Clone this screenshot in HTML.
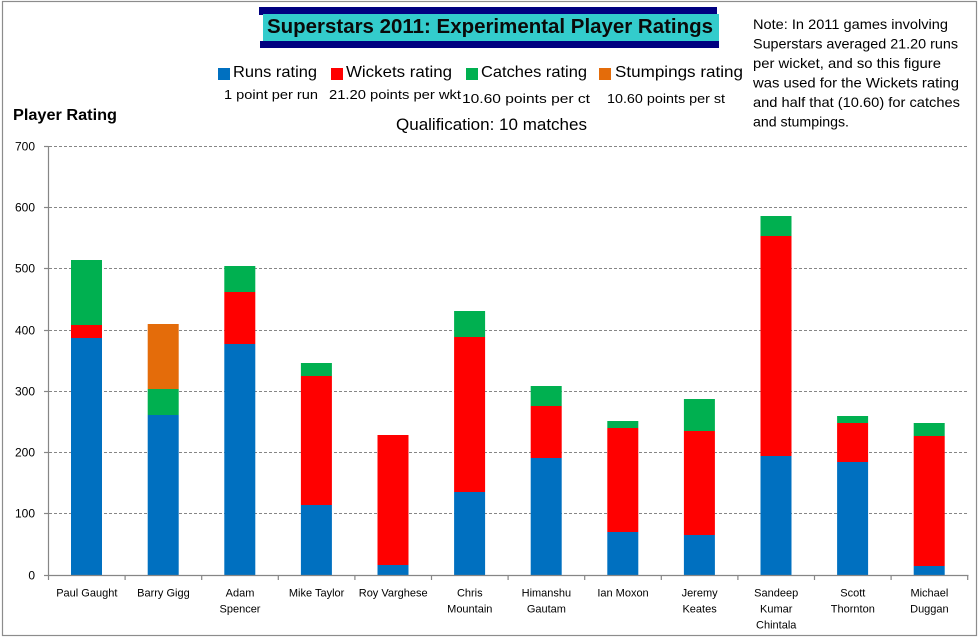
<!DOCTYPE html>
<html>
<head>
<meta charset="utf-8">
<style>
  html, body { margin: 0; padding: 0; background: #ffffff; }
  body { width: 980px; height: 638px; overflow: hidden; }
  svg { display: block; font-family: "Liberation Sans", sans-serif; }
</style>
</head>
<body>
<svg width="980" height="638" viewBox="0 0 980 638" xmlns="http://www.w3.org/2000/svg">
  <rect x="0" y="0" width="980" height="638" fill="#ffffff"/>
  <!-- outer border -->
  <rect x="2.5" y="1.5" width="974" height="634" fill="none" stroke="#8c8c8c" stroke-width="1.2"/>

  <!-- Title -->
  <rect x="259" y="7" width="458" height="8" fill="#000080"/>
  <rect x="263" y="14" width="456" height="27" fill="#33CCCC"/>
  <rect x="260" y="41" width="459" height="7" fill="#000080"/>
  <text x="267" y="33" font-size="20" font-weight="bold" fill="#0a0a0a" textLength="446" lengthAdjust="spacingAndGlyphs">Superstars 2011: Experimental Player Ratings</text>

  <!-- Legend -->
  <rect x="218" y="68" width="12" height="12" fill="#0070C0"/>
  <text x="233" y="77" font-size="16" fill="#000" textLength="84" lengthAdjust="spacingAndGlyphs">Runs rating</text>
  <rect x="331" y="68" width="12" height="12" fill="#FF0000"/>
  <text x="346" y="77" font-size="16" fill="#000" textLength="106" lengthAdjust="spacingAndGlyphs">Wickets rating</text>
  <rect x="466" y="68" width="12" height="12" fill="#00B050"/>
  <text x="481" y="77" font-size="16" fill="#000" textLength="106" lengthAdjust="spacingAndGlyphs">Catches rating</text>
  <rect x="599" y="68" width="12" height="12" fill="#E46C0A"/>
  <text x="615" y="77" font-size="16" fill="#000" textLength="128" lengthAdjust="spacingAndGlyphs">Stumpings rating</text>

  <text x="224" y="99" font-size="13" fill="#000" textLength="94" lengthAdjust="spacingAndGlyphs">1 point per run</text>
  <text x="329" y="99" font-size="13" fill="#000" textLength="132" lengthAdjust="spacingAndGlyphs">21.20 points per wkt</text>
  <text x="462" y="103" font-size="13" fill="#000" textLength="128" lengthAdjust="spacingAndGlyphs">10.60 points per ct</text>
  <text x="607" y="103" font-size="13" fill="#000" textLength="118" lengthAdjust="spacingAndGlyphs">10.60 points per st</text>

  <text x="396" y="130" font-size="17" fill="#000" textLength="191" lengthAdjust="spacingAndGlyphs">Qualification: 10 matches</text>

  <!-- Note -->
  <g font-size="14" fill="#000">
    <text x="753" y="29" textLength="195" lengthAdjust="spacingAndGlyphs">Note: In 2011 games involving</text>
    <text x="753" y="48.5" textLength="205" lengthAdjust="spacingAndGlyphs">Superstars averaged 21.20 runs</text>
    <text x="753" y="68" textLength="188" lengthAdjust="spacingAndGlyphs">per wicket, and so this figure</text>
    <text x="753" y="87.5" textLength="206" lengthAdjust="spacingAndGlyphs">was used for the  Wickets rating</text>
    <text x="753" y="107" textLength="207" lengthAdjust="spacingAndGlyphs">and half that (10.60) for catches</text>
    <text x="753" y="126.5" textLength="96" lengthAdjust="spacingAndGlyphs">and stumpings.</text>
  </g>

  <!-- Axis title -->
  <text x="13" y="120" font-size="16" font-weight="bold" fill="#000" textLength="104" lengthAdjust="spacingAndGlyphs">Player Rating</text>

  <!-- Gridlines -->
  <g stroke="#868686" stroke-width="1" stroke-dasharray="3,2">
    <line x1="49" y1="146.5" x2="968" y2="146.5"/>
    <line x1="49" y1="207.5" x2="968" y2="207.5"/>
    <line x1="49" y1="268.5" x2="968" y2="268.5"/>
    <line x1="49" y1="330.5" x2="968" y2="330.5"/>
    <line x1="49" y1="391.5" x2="968" y2="391.5"/>
    <line x1="49" y1="452.5" x2="968" y2="452.5"/>
    <line x1="49" y1="513.5" x2="968" y2="513.5"/>
  </g>

  <!-- Bars -->
  <g>
    <rect x="71" y="338" width="31" height="237" fill="#0070C0"/>
    <rect x="71" y="325" width="31" height="13" fill="#FF0000"/>
    <rect x="71" y="260" width="31" height="65" fill="#00B050"/>

    <rect x="147.7" y="415" width="31" height="160" fill="#0070C0"/>
    <rect x="147.7" y="389" width="31" height="26" fill="#00B050"/>
    <rect x="147.7" y="324" width="31" height="65" fill="#E46C0A"/>

    <rect x="224.3" y="344" width="31" height="231" fill="#0070C0"/>
    <rect x="224.3" y="292" width="31" height="52" fill="#FF0000"/>
    <rect x="224.3" y="266" width="31" height="26" fill="#00B050"/>

    <rect x="300.9" y="505" width="31" height="70" fill="#0070C0"/>
    <rect x="300.9" y="376" width="31" height="129" fill="#FF0000"/>
    <rect x="300.9" y="363" width="31" height="13" fill="#00B050"/>

    <rect x="377.5" y="565" width="31" height="10" fill="#0070C0"/>
    <rect x="377.5" y="435" width="31" height="130" fill="#FF0000"/>

    <rect x="454.1" y="492" width="31" height="83" fill="#0070C0"/>
    <rect x="454.1" y="337" width="31" height="155" fill="#FF0000"/>
    <rect x="454.1" y="311" width="31" height="26" fill="#00B050"/>

    <rect x="530.7" y="458" width="31" height="117" fill="#0070C0"/>
    <rect x="530.7" y="406" width="31" height="52" fill="#FF0000"/>
    <rect x="530.7" y="386" width="31" height="20" fill="#00B050"/>

    <rect x="607.3" y="532" width="31" height="43" fill="#0070C0"/>
    <rect x="607.3" y="428" width="31" height="104" fill="#FF0000"/>
    <rect x="607.3" y="421" width="31" height="7" fill="#00B050"/>

    <rect x="683.9" y="535" width="31" height="40" fill="#0070C0"/>
    <rect x="683.9" y="431" width="31" height="104" fill="#FF0000"/>
    <rect x="683.9" y="399" width="31" height="32" fill="#00B050"/>

    <rect x="760.5" y="456" width="31" height="119" fill="#0070C0"/>
    <rect x="760.5" y="236" width="31" height="220" fill="#FF0000"/>
    <rect x="760.5" y="216" width="31" height="20" fill="#00B050"/>

    <rect x="837.1" y="462" width="31" height="113" fill="#0070C0"/>
    <rect x="837.1" y="423" width="31" height="39" fill="#FF0000"/>
    <rect x="837.1" y="416" width="31" height="7" fill="#00B050"/>

    <rect x="913.7" y="566" width="31" height="9" fill="#0070C0"/>
    <rect x="913.7" y="436" width="31" height="130" fill="#FF0000"/>
    <rect x="913.7" y="423" width="31" height="13" fill="#00B050"/>
  </g>

  <!-- Axes -->
  <g stroke="#868686" stroke-width="1.2" fill="none">
    <line x1="48.5" y1="146" x2="48.5" y2="575.5"/>
    <line x1="48" y1="575.5" x2="968.5" y2="575.5"/>
    <line x1="44" y1="146.5" x2="48.5" y2="146.5"/>
    <line x1="44" y1="207.5" x2="48.5" y2="207.5"/>
    <line x1="44" y1="268.5" x2="48.5" y2="268.5"/>
    <line x1="44" y1="330.5" x2="48.5" y2="330.5"/>
    <line x1="44" y1="391.5" x2="48.5" y2="391.5"/>
    <line x1="44" y1="452.5" x2="48.5" y2="452.5"/>
    <line x1="44" y1="513.5" x2="48.5" y2="513.5"/>
    <line x1="44" y1="575.5" x2="48.5" y2="575.5"/>
    <line x1="48.5" y1="575" x2="48.5" y2="580"/>
    <line x1="125.1" y1="575" x2="125.1" y2="580"/>
    <line x1="201.7" y1="575" x2="201.7" y2="580"/>
    <line x1="278.3" y1="575" x2="278.3" y2="580"/>
    <line x1="354.9" y1="575" x2="354.9" y2="580"/>
    <line x1="431.5" y1="575" x2="431.5" y2="580"/>
    <line x1="508.1" y1="575" x2="508.1" y2="580"/>
    <line x1="584.7" y1="575" x2="584.7" y2="580"/>
    <line x1="661.3" y1="575" x2="661.3" y2="580"/>
    <line x1="737.9" y1="575" x2="737.9" y2="580"/>
    <line x1="814.5" y1="575" x2="814.5" y2="580"/>
    <line x1="891.1" y1="575" x2="891.1" y2="580"/>
    <line x1="967.7" y1="575" x2="967.7" y2="580"/>
  </g>

  <!-- Y labels -->
  <g font-size="12" fill="#000" text-anchor="end">
    <text x="35" y="150.5">700</text>
    <text x="35" y="211.5">600</text>
    <text x="35" y="272.5">500</text>
    <text x="35" y="334.5">400</text>
    <text x="35" y="395.5">300</text>
    <text x="35" y="456.5">200</text>
    <text x="35" y="517.5">100</text>
    <text x="35" y="579.5">0</text>
  </g>

  <!-- X labels -->
  <g font-size="11" fill="#000" text-anchor="middle">
    <text x="86.8" y="596.5">Paul Gaught</text>
    <text x="163.4" y="596.5">Barry Gigg</text>
    <text x="240" y="596.5">Adam</text>
    <text x="240" y="612.5">Spencer</text>
    <text x="316.6" y="596.5">Mike Taylor</text>
    <text x="393.2" y="596.5">Roy Varghese</text>
    <text x="469.8" y="596.5">Chris</text>
    <text x="469.8" y="612.5">Mountain</text>
    <text x="546.4" y="596.5">Himanshu</text>
    <text x="546.4" y="612.5">Gautam</text>
    <text x="623" y="596.5">Ian Moxon</text>
    <text x="699.6" y="596.5">Jeremy</text>
    <text x="699.6" y="612.5">Keates</text>
    <text x="776.2" y="596.5">Sandeep</text>
    <text x="776.2" y="612.5">Kumar</text>
    <text x="776.2" y="628.5">Chintala</text>
    <text x="852.8" y="596.5">Scott</text>
    <text x="852.8" y="612.5">Thornton</text>
    <text x="929.4" y="596.5">Michael</text>
    <text x="929.4" y="612.5">Duggan</text>
  </g>
</svg>
</body>
</html>
